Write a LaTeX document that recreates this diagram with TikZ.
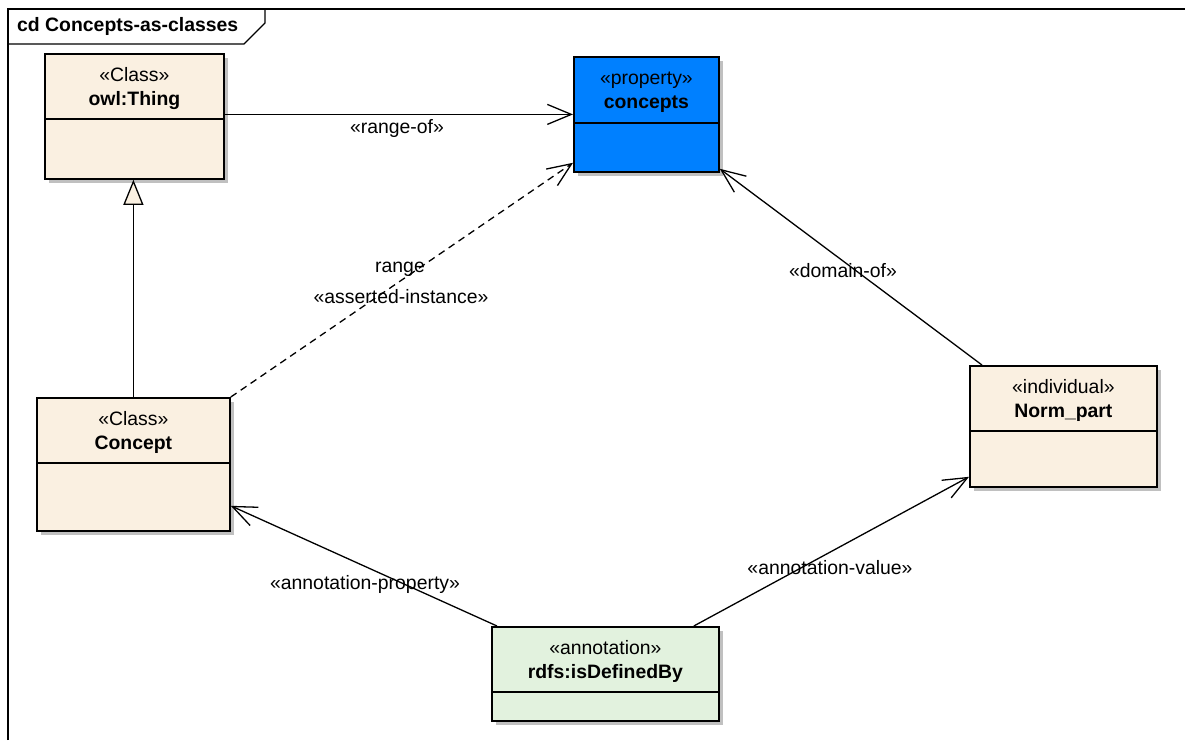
\documentclass[tikz,border=0pt]{standalone}
\usepackage{fontspec}
\setmainfont{Liberation Sans}
\usetikzlibrary{arrows.meta,shadows}
\definecolor{classfill}{RGB}{250,240,225}
\definecolor{propfill}{RGB}{0,128,255}
\definecolor{annofill}{RGB}{226,242,222}
\definecolor{shadowgray}{RGB}{192,192,192}
\tikzset{
	umlbox/.style={draw=black, line width=1.8pt, anchor=north west, inner sep=0pt,
		general shadow={fill=shadowgray, shadow xshift=4pt, shadow yshift=-4pt}},
	sepline/.style={line width=1.6pt},
	stereo/.style={anchor=base, inner sep=0pt, font=\fontsize{19.4}{23}\selectfont},
	cname/.style={stereo, font=\fontsize{19.4}{23}\selectfont\bfseries},
	lbl/.style={stereo},
	rel/.style={line width=1.3pt, -{Straight Barb[length=24pt, width=20pt]}}
}
\begin{document}
\begin{tikzpicture}[x=1pt, y=-1pt]
		\useasboundingbox (0,0) rectangle (1185,740);
		\draw[line width=1.3pt] (8,740) -- (8,9) -- (1185,9);
		\draw[line width=1.3pt] (265,9) -- (265,23) -- (244,44) -- (8,44);
		\node[cname, anchor=base west] (title) at (17,31) {cd Concepts-as-classes};

		\node[umlbox, fill=classfill, minimum width=179pt, minimum height=125pt] (thing) at (44,53) {};
		\draw[sepline] ([yshift=-66pt]thing.north west) -- ([yshift=-66pt]thing.north east);
		\node[stereo] (thing-st) at ([yshift=-28pt]thing.north) {«Class»};
		\node[cname] (thing-nm) at ([yshift=-52pt]thing.north) {owl:Thing};

		\node[umlbox, fill=propfill, minimum width=145pt, minimum height=115pt] (concepts) at (573,56) {};
		\draw[sepline] ([yshift=-67pt]concepts.north west) -- ([yshift=-67pt]concepts.north east);
		\node[stereo] (concepts-st) at ([yshift=-28pt]concepts.north) {«property»};
		\node[cname] (concepts-nm) at ([yshift=-52pt]concepts.north) {concepts};

		\node[umlbox, fill=classfill, minimum width=193pt, minimum height=133pt] (concept) at (36,397) {};
		\draw[sepline] ([yshift=-66pt]concept.north west) -- ([yshift=-66pt]concept.north east);
		\node[stereo] (concept-st) at ([yshift=-28pt]concept.north) {«Class»};
		\node[cname] (concept-nm) at ([yshift=-52pt]concept.north) {Concept};

		\node[umlbox, fill=classfill, minimum width=187pt, minimum height=121pt] (norm) at (969,365) {};
		\draw[sepline] ([yshift=-66pt]norm.north west) -- ([yshift=-66pt]norm.north east);
		\node[stereo] (norm-st) at ([yshift=-28pt]norm.north) {«individual»};
		\node[cname] (norm-nm) at ([yshift=-52pt]norm.north) {Norm\_part};

		\node[umlbox, fill=annofill, minimum width=227pt, minimum height=94pt] (rdfs) at (491,626) {};
		\draw[sepline] ([yshift=-66pt]rdfs.north west) -- ([yshift=-66pt]rdfs.north east);
		\node[stereo] (rdfs-st) at ([yshift=-28pt]rdfs.north) {«annotation»};
		\node[cname] (rdfs-nm) at ([yshift=-52pt]rdfs.north) {rdfs:isDefinedBy};

		\draw[rel] (thing.east |- concepts.west) -- (concepts.west);
		\draw[line width=1.3pt, -{Triangle[length=25pt, width=20pt, fill=classfill]}] (concept.north) -- (concept.north |- thing.south);
		\draw[rel, dash pattern=on 7pt off 5pt] (concept.north east) -- ([yshift=10pt]concepts.south west);
		\draw[rel] ([xshift=13pt]norm.north west) -- ([yshift=4pt]concepts.south east);
		\draw[rel] ([xshift=6pt]rdfs.north west) -- ([yshift=26pt]concept.south east);
		\draw[rel] ([xshift=-26pt]rdfs.north east) -- ([yshift=11pt]norm.south west);

		\node[lbl] (rangeof) at (397,133) {«range-of»};
		\node[lbl] (range) at (400,272) {range};
		\node[lbl] (asserted) at (401,303) {«asserted-instance»};
		\node[lbl] (domainof) at (843,277) {«domain-of»};
		\node[lbl] (annoprop) at (365,589) {«annotation-property»};
		\node[lbl] (annoval) at (830,574) {«annotation-value»};
\end{tikzpicture}
\end{document}
